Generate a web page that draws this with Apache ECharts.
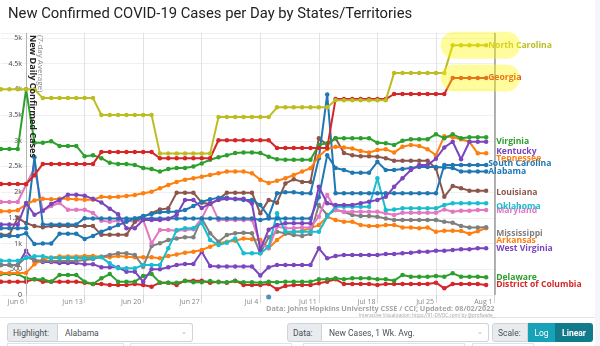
<!DOCTYPE html>
<html><head><meta charset="utf-8">
<script src="https://cdn.jsdelivr.net/npm/echarts@6/dist/echarts.min.js"></script>
<style>
html,body{margin:0;padding:0;background:#f5f5fa;width:600px;height:346px;overflow:hidden;font-family:'Open Sans',sans-serif;}
#card{position:absolute;left:0;top:0;width:595px;height:317px;background:#fff;border-bottom:1px solid #e3e3e8;}
#chart{position:absolute;left:0;top:0;width:600px;height:346px;}
#controls{position:absolute;left:0;top:318px;width:595px;height:28px;background:#fff;}
.grp{position:absolute;top:5px;height:19px;display:flex;font-family:Roboto,'Liberation Sans',sans-serif;font-size:8.5px;}
.lab{background:#e9ecef;border:1px solid #ced4da;border-radius:3px 0 0 3px;color:#495057;display:flex;align-items:center;padding:0 5px;box-sizing:border-box;height:19px;}
.sel{background:#fff;border:1px solid #ced4da;border-left:none;border-radius:0 3px 3px 0;color:#495057;display:flex;align-items:center;padding:0 7px;box-sizing:border-box;height:19px;position:relative;}
.chev{position:absolute;right:5px;top:4px;color:#aaa;font-size:7px;}
.btn{display:flex;align-items:center;justify-content:center;color:#fff;height:19px;box-sizing:border-box;}
.next{position:absolute;top:343px;height:6px;border:1px solid #dfe2e6;border-bottom:none;background:#fff;}
</style></head>
<body>
<div id="card"></div>
<div id="chart"></div>
<div id="controls">
  <div class="grp" style="left:7px;width:186px;"><div class="lab" style="width:51px;">Highlight:</div><div class="sel" style="width:135px;">Alabama<span class="chev">&#8964;</span></div></div>
  <div class="grp" style="left:287px;width:202px;"><div class="lab" style="width:35px;">Data:</div><div class="sel" style="width:167px;">New Cases, 1 Wk. Avg.<span class="chev">&#8964;</span></div></div>
  <div class="grp" style="left:492px;width:101px;"><div class="lab" style="width:36px;">Scale:</div><div class="btn" style="width:27px;background:#17a2b8;">Log</div><div class="btn" style="width:38px;background:#117a8b;border-radius:0 3px 3px 0;font-weight:bold;">Linear</div></div>
</div>
<div class="next" style="left:7px;width:115px;"></div>
<div class="next" style="left:130px;width:160px;"></div>
<div class="next" style="left:303px;width:160px;"></div>
<div class="next" style="left:472px;width:60px;"></div>
<script>
// ---- categories (Jun 3 .. Aug 1) ----
const dates = [];
(function(){
  for (let d = 3; d <= 30; d++) dates.push('Jun ' + d);
  for (let d = 1; d <= 31; d++) dates.push('Jul ' + d);
  dates.push('Aug 1');
})();
const tickDates = ['Jun 6','Jun 13','Jun 20','Jun 27','Jul 4','Jul 11','Jul 18','Jul 25','Aug 1'];
const yTicks = [0,500,1000,1500,2000,2500,3000,3500,4000,4500,5000];

// ---- series values (7-day average new cases), Jun 3 .. Jul 31 ----
const northCarolina = [4000,4000,4000,4000,4000, 3830,3830,3830,3830,3830,3830,3830, 3500,3500,3500,3500,3500,3500,3500, 2750,2750,2750,2750,2750,2750,2750, 3460,3460,3460,3460,3460,3460,3460, 3650,3650,3650,3650,3650,3650,3650, 3790,3790,3790,3790,3790,3790,3790, 4320,4320,4320,4320,4320,4320,4320, 4860,4860,4860,4860,4860];
const georgia = [2160,2160,2160,2160, 2330, 2550,2550,2550,2550,2550,2550,2550, 2780,2780,2780,2780,2780,2780,2780, 2660,2660,2660,2660,2660,2660,2660, 3010,3010,3010,3010,3010,3010,3010, 2860,2860,2860,2860,2860,2860,2860, 3810,3810,3810,3810,3810,3810,3810, 3910,3910,3910,3910,3910,3910,3910, 4220,4220,4220,4220,4220];
const virginia = [2840,2840,2840,4000,2960,2960,2990,2900,2900,2900,2700,2720,2660,2570,2550,2550,2530,2470,2450,2400,2450,2470,2470,2500,2560,2630,2680,2720,2760,2770,2770,2760,2690,2640,2630,2630,2630,2630,2920,2950,3050,3050,3050,3050,3050,2960,2950,2920,3000,3030,3030,3030,3125,3050,3125,3050,3070,3070,3070];
const kentucky = [1370,1370,1370,1790,1560,1640,1770,1850,1950,1950,1930,1870,1800,1680,1570,1300,1300,1460,1460,1460,1480,1560,1850,1850,1690,1780,1850,1870,1870,1870,1780,880,1270,1360,1395,1395,1395,1395,2105,1783,1750,1750,1750,1783,1815,1850,1910,2105,2270,2430,2530,2530,2650,2870,2980,2640,2980,2980,2980];
const tennessee = [1630,1630,1650,1760,1840,1870,1860,1870,1870,1860,1855,1855,1910,1900,1910,1925,1945,1980,2010,2075,2140,2200,2240,2270,2300,2335,2370,2400,2400,2400,2370,2240,2180,2220,2270,2335,2400,2465,2700,2840,2885,2870,2850,2800,2770,2820,2835,2770,2885,2920,2900,2835,2720,3090,3070,3030,2980,2755,2755];
const southCarolina = [1150,1150,1150,1200,990,1000,1000,1190,1190,1190,1090,1150,1230,1297,1360,1425,1490,1536,1575,1608,1620,1620,1653,1730,1815,1860,1892,1892,1860,1850,1850,1750,1523,1978,2000,2000,1980,1978,2660,3900,1978,1978,1978,1978,1978,1978,1978,1978,1978,1978,1978,1978,1978,2530,2530,2530,2530,2530,2530];
const alabama = [1300,1300,1300,1300,2680,1370,1370,1370,1370,1370,1495,1490,1490,1490,1490,1490,1490,1490,1490,1490,1490,1490,1490,1490,1490,1490,1490,1490,1490,1490,1490,1460,1490,1490,1490,1490,1490,1490,1900,2720,2470,2430,2380,2380,2380,2590,2430,2430,2450,2470,2490,2490,2490,2480,2470,2400,2400,2400,2400];
const louisiana = [1170,1170,1500,1400,1340,1320,1340,1340,1340,1340,1340,1340,1170,1170,1170,1170,1425,1525,1590,1665,1685,1990,1990,1990,1795,1770,1860,1990,1990,1990,1990,1590,1850,1795,2170,2250,2200,2200,3050,2920,3050,2760,2720,2700,2700,2690,2660,2610,2610,2610,2610,2610,2460,1910,2120,2075,2030,2030,2030];
const oklahoma = [668,668,668,720,752,752,720,720,720,720,720,720,733,616,519,519,519,583,583,583,908,1265,1297,1297,1400,1070,972,1017,1100,810,810,810,940,1590,1230,1230,1230,1230,1230,1523,1717,1717,1717,1717,1717,2270,1653,1665,1685,1685,1685,1685,1685,1750,1783,1783,1783,1783,1783];
const maryland = [1810,1810,1810,2145,2470,1640,1730,1790,1660,1660,1660,1595,1445,1425,1445,1445,1425,1460,1005,1265,1265,1250,1265,1280,1490,1815,1460,1460,1460,1460,1460,1005,908,1330,1300,1300,1315,1315,1523,1945,1653,1620,1620,1620,1620,1620,1590,1556,1600,1600,1600,1600,1600,1665,1620,1640,1640,1653,1653];
const mississippi = [583,583,583,740,680,660,660,660,660,660,680,700,745,778,810,810,778,551,953,1005,1070,1100,1122,1122,1490,1200,1037,1167,1200,1212,1200,810,1122,1232,1200,1167,1150,1186,1750,1556,1653,1620,1556,1536,1536,1523,1490,1460,1460,1460,1460,1460,1460,1425,1405,1340,1315,1315,1320];
const arkansas = [430,430,430,430,600,690,730,750,750,750,760,760,745,733,760,745,733,733,733,713,760,790,822,842,875,940,1005,1037,1056,1100,1083,1070,908,1070,1190,1225,1245,1300,1360,1520,1460,1425,1425,1360,1340,1340,1360,1360,1315,1315,1300,1315,1230,1250,1250,1245,1190,1240,1300];
const westVirginia = [583,583,583,860,660,640,640,620,620,620,600,600,538,538,538,453,453,260,500,500,538,583,603,603,842,565,555,555,555,555,555,380,538,583,583,583,583,583,908,713,760,778,778,778,778,778,798,798,810,822,842,842,862,862,875,888,888,908,908];
const delaware = [408,408,408,324,305,305,260,389,389,389,260,214,324,408,260,260,260,370,408,240,240,240,270,250,250,270,250,250,270,250,250,240,260,250,260,260,260,260,305,305,324,305,324,324,324,305,305,279,389,357,357,357,370,357,422,357,357,357,344];
const dc = [260,260,260,260,305,260,260,260,260,260,240,214,214,195,195,195,214,195,162,240,240,195,279,279,279,240,260,240,279,195,195,195,214,111,175,195,195,195,227,260,305,214,214,214,214,195,214,214,214,214,214,214,240,130,214,214,214,214,195];
const strayPoint = [['Jul 5', -40]];
const highlighted = ['North Carolina','Georgia'];

// ---- styling per series (not data) ----
const seriesDefs = [
  {name:'District of Columbia', data:dc, color:'#d62728', dist:10, dy:0},
  {name:'Delaware', data:delaware, color:'#2ca02c', dist:10, dy:0},
  {name:'West Virginia', data:westVirginia, color:'#7b45bf', dist:10, dy:0},
  {name:'Arkansas', data:arkansas, color:'#ff7f0e', dist:10, dy:12},
  {name:'Mississippi', data:mississippi, color:'#7f7f7f', dist:10, dy:6},
  {name:'Maryland', data:maryland, color:'#e377c2', dist:10, dy:1},
  {name:'Oklahoma', data:oklahoma, color:'#17becf', dist:10, dy:3},
  {name:'Louisiana', data:louisiana, color:'#8c564b', dist:10, dy:2},
  {name:'Alabama', data:alabama, color:'#1f77b4', dist:2, dy:0},
  {name:'South Carolina', data:southCarolina, color:'#1f77b4', dist:2, dy:-1},
  {name:'Tennessee', data:tennessee, color:'#ff7f0e', dist:10, dy:5},
  {name:'Kentucky', data:kentucky, color:'#7b45bf', dist:10, dy:10},
  {name:'Virginia', data:virginia, color:'#2ca02c', dist:10, dy:4},
  {name:'Georgia', data:georgia, color:'#d62728', dist:2, dy:0},
  {name:'North Carolina', data:northCarolina, color:'#bcbd22', dist:2, dy:0}
];

const chart = echarts.init(document.getElementById('chart'), null, {renderer:'canvas'});
const isTick = (idx) => tickDates.indexOf(dates[idx]) >= 0;
const fmtY = (v) => v === 0 ? '0' : (v < 1000 ? String(v) : (v/1000) + 'k');

const series = seriesDefs.map((s, k) => ({
  name: s.name, type: 'line', data: s.data, z: 2 + k,
  symbol: 'circle', symbolSize: 4.5, showSymbol: true,
  lineStyle: {width: 2, color: s.color}, itemStyle: {color: s.color},
  emphasis: {disabled: true},
  endLabel: {show: true, formatter: s.name, color: s.color, fontWeight: 'bold', fontSize: 8.6,
    fontFamily: 'Open Sans', distance: s.dist, offset: [0, s.dy]},
  labelLayout: {hideOverlap: false}
}));
series.push({
  type: 'line', data: [], silent: true,
  markLine: {symbol: 'none', silent: true, label: {show: false},
    data: [
      {xAxis: 'Jun 6', lineStyle: {color: '#b5b5b5', width: 1, type: 'solid'}},
      {xAxis: 'Aug 1', lineStyle: {color: '#9a9a9a', width: 1.5, type: 'solid'}}
    ]}
});
series.push({type: 'scatter', data: strayPoint, symbolSize: 5, itemStyle: {color: '#1f77b4'}, clip: false, z: 20});

chart.setOption({
  animation: false,
  title: {text: 'New Confirmed COVID-19 Cases per Day by States/Territories', left: 3, top: 2,
    textStyle: {fontSize: 14.8, fontWeight: 'normal', color: '#222', fontFamily: 'Roboto'}},
  grid: {left: 1, right: 105.5, top: 32.8, bottom: 51, containLabel: false},
  xAxis: {type: 'category', data: dates, boundaryGap: false,
    axisLine: {show: false},
    axisTick: {show: true, interval: isTick, length: 8, lineStyle: {color: '#d5d5d5'}},
    axisLabel: {interval: isTick, align: 'right', margin: 3, fontSize: 7, color: '#888', padding: [0, 2, 0, 0], fontFamily: 'Open Sans'},
    splitLine: {show: true, interval: isTick, lineStyle: {color: '#e2e2e2', width: 1}}
  },
  yAxis: {type: 'value', min: 0, max: 5100, interval: 500,
    axisLine: {show: false}, axisTick: {show: false},
    axisLabel: {inside: true, align: 'right', margin: 21, fontSize: 7, color: '#444', formatter: fmtY, showMaxLabel: false, fontFamily: 'Open Sans'},
    splitLine: {lineStyle: {color: '#f0f0f2'}}
  },
  series: series
});

// decorations positioned through the chart's own scales
function px(cat, val){ return chart.convertToPixel({gridIndex: 0}, [cat, val]); }
const graphics = [];
const top5k = px('Jun 6', 5000);
graphics.push({type:'text', x: top5k[0] + 6, y: top5k[1] - 3, rotation: -Math.PI/2,
  style:{text:'New Daily Confirmed Cases', font:'bold 9px "Open Sans"', fill:'#222', textAlign:'left', textVerticalAlign:'middle'}, z: 50});
graphics.push({type:'text', x: top5k[0] + 14, y: top5k[1] - 3, rotation: -Math.PI/2,
  style:{text:'(7-day Average)', font:'8px "Open Sans"', fill:'#888', textAlign:'left', textVerticalAlign:'middle'}, z: 50});
highlighted.forEach(name => {
  const s = seriesDefs.find(d => d.name === name);
  const n = s.data.length;
  const a = px(dates[n - 5], s.data[n - 5]);
  const b = px(dates[n - 1], s.data[n - 1]);
  graphics.push({type:'rect', shape:{x: a[0] - 12, y: a[1] - 13.5, width: b[0] - a[0] + 46, height: 27, r: 13.5},
    style:{fill:'rgba(255,246,0,0.38)'}, z: 60, silent: true});
});
const src = px('Aug 1', 0);
graphics.push({type:'text', x: src[0], y: 309, style:{text:'Data: Johns Hopkins University CSSE / CCI; Updated: 08/02/2022', font:'bold 7.3px "Open Sans"', fill:'#a5a5a5', textAlign:'right', textVerticalAlign:'middle'}});
graphics.push({type:'text', x: src[0], y: 315.5, style:{text:'Interactive Visualization: https://91-DIVOC.com/ by @profwade_', font:'4.6px "Open Sans"', fill:'#a5a5a5', textAlign:'right', textVerticalAlign:'middle'}});
chart.setOption({graphic: graphics});
</script>
</body></html>
